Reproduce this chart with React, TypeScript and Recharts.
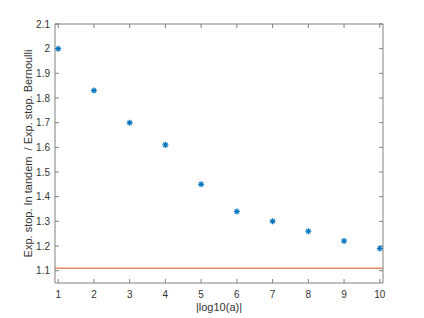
import { ComposedChart, Scatter, XAxis, YAxis, ReferenceLine } from 'recharts';

const logA = [1, 2, 3, 4, 5, 6, 7, 8, 9, 10];
const ratio = [2.0, 1.83, 1.7, 1.61, 1.45, 1.34, 1.3, 1.26, 1.22, 1.19];
const bernoulliLevel = 1.11;
const xTicks = [1, 2, 3, 4, 5, 6, 7, 8, 9, 10];
const yTicks = [1.1, 1.2, 1.3, 1.4, 1.5, 1.6, 1.7, 1.8, 1.9, 2, 2.1];

const points = logA.map((x, i) => ({ x, y: ratio[i] }));

const AXIS = '#808080';
const TEXT = '#333';
const FONT = '"Liberation Sans", Arial, sans-serif';

function Asterisk(props: any) {
  const { cx, cy } = props;
  const r = 3;
  const d = r * 0.7;
  return (
    <g stroke="#0072BD" strokeWidth={1.2}>
      <line x1={cx - r} y1={cy} x2={cx + r} y2={cy} />
      <line x1={cx} y1={cy - r} x2={cx} y2={cy + r} />
      <line x1={cx - d} y1={cy - d} x2={cx + d} y2={cy + d} />
      <line x1={cx - d} y1={cy + d} x2={cx + d} y2={cy - d} />
    </g>
  );
}

const fmtY = (v: number) => (Number.isInteger(v) ? String(v) : v.toFixed(1));

export default function App() {
  const tickStyle = { fontSize: 10, fill: TEXT, fontFamily: FONT };
  return (
    <div style={{ position: 'absolute', left: 0, top: 0 }}>
      <ComposedChart
        width={424}
        height={318}
        data={points}
        margin={{ top: 23, right: 40, bottom: 0, left: 0 }}
      >
        <XAxis
          xAxisId="b"
          type="number"
          dataKey="x"
          domain={[0.91, 10.09]}
          ticks={xTicks}
          allowDataOverflow
          height={35}
          stroke={AXIS}
          tickSize={-4}
          tickMargin={12}
          tick={tickStyle}
          label={{
            value: '|log10(a)|',
            position: 'insideBottom',
            offset: 7,
            style: { fontSize: 11, fill: TEXT, fontFamily: FONT },
          }}
        />
        <XAxis
          xAxisId="t"
          orientation="top"
          type="number"
          dataKey="x"
          domain={[0.91, 10.09]}
          ticks={xTicks}
          allowDataOverflow
          height={1}
          stroke={AXIS}
          tickSize={-4}
          tickFormatter={() => ''}
        />
        <YAxis
          yAxisId="l"
          type="number"
          domain={[1.05, 2.1]}
          ticks={yTicks}
          allowDataOverflow
          width={55}
          stroke={AXIS}
          tickSize={-4}
          tickMargin={9}
          tick={tickStyle}
          tickFormatter={fmtY}
          label={{
            value: 'Exp. stop. In tandem\u00a0\u00a0/ Exp. stop. Bernoulli',
            angle: -90,
            position: 'insideLeft',
            offset: 28,
            style: { fontSize: 11, fill: TEXT, fontFamily: FONT, textAnchor: 'middle' },
          }}
        />
        <YAxis
          yAxisId="r"
          orientation="right"
          type="number"
          domain={[1.05, 2.1]}
          ticks={yTicks}
          allowDataOverflow
          width={1}
          stroke={AXIS}
          tickSize={-4}
          tickFormatter={() => ''}
        />
        <ReferenceLine
          xAxisId="b"
          yAxisId="l"
          y={bernoulliLevel}
          stroke="#D95319"
          strokeWidth={1}
        />
        <Scatter
          xAxisId="b"
          yAxisId="l"
          dataKey="y"
          shape={<Asterisk />}
          isAnimationActive={false}
        />
      </ComposedChart>
    </div>
  );
}
